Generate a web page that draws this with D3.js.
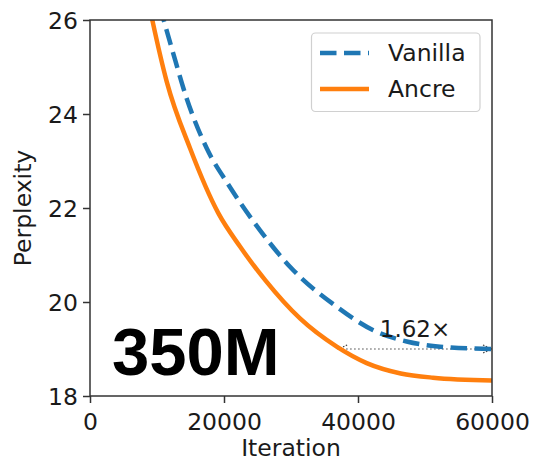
<!DOCTYPE html>
<html>
<head>
<meta charset="utf-8">
<script src="https://cdn.jsdelivr.net/npm/d3@7"></script>
<style>
  html, body { margin: 0; padding: 0; background: #fff; }
  svg text { font-family: "DejaVu Sans", sans-serif; fill: #1a1a1a; }
</style>
</head>
<body>
<svg id="chart" width="534" height="461"></svg>
<script>
// Perplexity vs training iteration, 350M model
const vanillaIter = [10400, 12200, 14430, 17420, 20640, 24630, 29850, 36820, 42280, 47270, 52240, 60000];
const vanillaPpl  = [26.3, 25.40, 24.33, 23.27, 22.50, 21.67, 20.75, 19.90, 19.40, 19.16, 19.05, 19.0];
const ancreIter = [8900, 9360, 11450, 14930, 19150, 22390, 26120, 31340, 36820, 41300, 46370, 51190, 60000];
const ancrePpl  = [26.27, 25.96, 24.69, 23.27, 21.89, 21.18, 20.47, 19.65, 19.05, 18.70, 18.48, 18.39, 18.33];
const xTicks = [0, 20000, 40000, 60000];
const yTicks = [18, 20, 22, 24, 26];
const speedup = 1.62;
const targetPpl = 19.0;

const svg = d3.select("#chart");
const m = { left: 90, right: 492, top: 20, bottom: 396 };

const x = d3.scaleLinear().domain([0, 60000]).range([m.left, m.right]);
const y = d3.scaleLinear().domain([18, 26]).range([m.bottom, m.top]);

svg.append("defs").append("clipPath").attr("id", "plotClip")
  .append("rect").attr("x", m.left).attr("y", m.top)
  .attr("width", m.right - m.left).attr("height", m.bottom - m.top);

const line = d3.line().x(d => x(d[0])).y(d => y(d[1])).curve(d3.curveMonotoneX);

const plot = svg.append("g").attr("clip-path", "url(#plotClip)");

// Speedup annotation: dotted double arrow at the target perplexity
const ay = y(targetPpl);
const ax0 = x(60000 / speedup), ax1 = x(60000);
plot.append("line").attr("x1", ax0).attr("x2", ax1).attr("y1", ay).attr("y2", ay)
  .attr("stroke", "#444").attr("stroke-width", 1.2).attr("stroke-dasharray", "1.5,2.5");
function arrowHead(tipX, dir) {
  const h = 9, w = 4;
  plot.append("path")
    .attr("d", `M${tipX + dir * h},${ay - w} L${tipX},${ay} L${tipX + dir * h},${ay + w}`)
    .attr("fill", "none").attr("stroke", "#444").attr("stroke-width", 1.2)
    .attr("stroke-dasharray", "1.5,1.5");
}
arrowHead(ax0, 1);
arrowHead(ax1, -1);

plot.append("path").datum(d3.zip(vanillaIter, vanillaPpl)).attr("d", line)
  .attr("fill", "none").attr("stroke", "#1f77b4").attr("stroke-width", 4.5)
  .attr("stroke-dasharray", "16.5,7.5");
plot.append("path").datum(d3.zip(ancreIter, ancrePpl)).attr("d", line)
  .attr("fill", "none").attr("stroke", "#ff7f0e").attr("stroke-width", 4.5);

svg.append("text").attr("x", 415).attr("y", 337).attr("text-anchor", "middle")
  .attr("font-size", 23).text(speedup.toFixed(2) + "×");

// Axes
const xAxis = svg.append("g").attr("transform", `translate(0,${m.bottom})`)
  .call(d3.axisBottom(x).tickValues(xTicks).tickFormat(d3.format("d")).tickSize(7).tickPadding(5));
const yAxis = svg.append("g").attr("transform", `translate(${m.left},0)`)
  .call(d3.axisLeft(y).tickValues(yTicks).tickFormat(d3.format("d")).tickSize(7).tickPadding(5));
[xAxis, yAxis].forEach(g => {
  g.select(".domain").remove();
  g.selectAll(".tick line").attr("stroke", "#333").attr("stroke-width", 1.5);
  g.selectAll(".tick text").attr("font-size", 23.5).attr("fill", "#1a1a1a")
    .attr("font-family", "DejaVu Sans, sans-serif");
});
xAxis.selectAll(".tick text").attr("dy", "0.95em");
yAxis.selectAll(".tick text").attr("dy", "0.35em");

// Frame
svg.append("rect").attr("x", m.left).attr("y", m.top)
  .attr("width", m.right - m.left).attr("height", m.bottom - m.top)
  .attr("fill", "none").attr("stroke", "#333").attr("stroke-width", 1.5);

svg.append("text").attr("x", (m.left + m.right) / 2).attr("y", 456)
  .attr("text-anchor", "middle").attr("font-size", 23.5).text("Iteration");
svg.append("text").attr("transform", `translate(31,${(m.top + m.bottom) / 2}) rotate(-90)`)
  .attr("text-anchor", "middle").attr("font-size", 23.5).text("Perplexity");

// Model size label
svg.append("text").attr("x", 112).attr("y", 375)
  .style("font-family", "'Liberation Sans', Arial, sans-serif").style("font-weight", "bold")
  .style("fill", "#000").attr("font-size", 67).text("350M");

// Legend
const legend = svg.append("g");
legend.append("rect").attr("x", 311.5).attr("y", 33).attr("width", 168.5).attr("height", 78.5)
  .attr("rx", 4).attr("fill", "#fff").attr("fill-opacity", 0.8)
  .attr("stroke", "#d0d0d0").attr("stroke-width", 1.2);
const items = [
  { name: "Vanilla", color: "#1f77b4", dash: "16.5,7.5", y: 53 },
  { name: "Ancre", color: "#ff7f0e", dash: null, y: 89 }
];
items.forEach(it => {
  legend.append("line").attr("x1", 320).attr("x2", 369).attr("y1", it.y).attr("y2", it.y)
    .attr("stroke", it.color).attr("stroke-width", 4.5).attr("stroke-dasharray", it.dash);
  legend.append("text").attr("x", 388).attr("y", it.y).attr("dy", "0.36em")
    .attr("font-size", 23.5).text(it.name);
});
</script>
</body>
</html>
